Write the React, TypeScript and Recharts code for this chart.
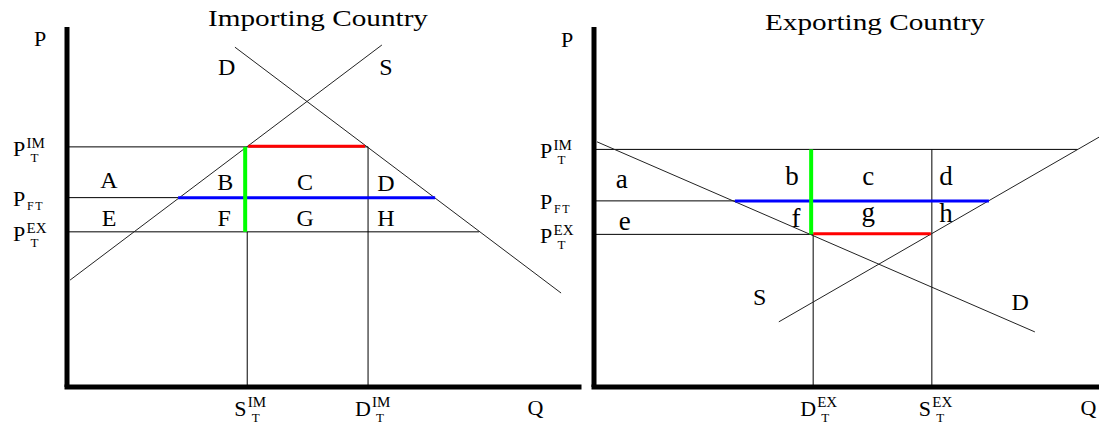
import React from 'react';
import { ComposedChart, Line, XAxis, YAxis, ReferenceDot } from 'recharts';

const FONT = "'Liberation Serif', 'Times New Roman', serif";

// ---------------- Importing country (left panel) ----------------
const IM_PRICE_TICKS = [66.7, 52.6, 43.1, 96.4];
const IM_PRICE_LABELS = [
  { base: 'P', sup: 'IM', sub: 'T' },
  { base: 'P', sup: '', sub: 'FT' },
  { base: 'P', sup: 'EX', sub: 'T' },
  { base: 'P', sup: '', sub: '' },
];
const IM_QTY_TICKS = [35.2, 58.8, 91.5];
const IM_QTY_LABELS = [
  { base: 'S', sup: 'IM', sub: 'T' },
  { base: 'D', sup: 'IM', sub: 'T' },
  { base: 'Q', sup: '', sub: '' },
];
const IM_SUPPLY = [{ q: 0.6, p: 29.7 }, { q: 61.5, p: 95.0 }];
const IM_DEMAND = [{ q: 32.8, p: 94.4 }, { q: 96.5, p: 26.1 }];
const IM_GUIDES = [
  [{ q: 0, p: 66.7 }, { q: 58.8, p: 66.7 }],
  [{ q: 0, p: 52.6 }, { q: 21.7, p: 52.6 }],
  [{ q: 0, p: 43.1 }, { q: 80.5, p: 43.1 }],
  [{ q: 35.2, p: 0 }, { q: 35.2, p: 43.1 }],
  [{ q: 58.8, p: 0 }, { q: 58.8, p: 66.7 }],
];
const IM_RED = [{ q: 35.4, p: 66.9 }, { q: 58.2, p: 66.9 }];
const IM_BLUE = [{ q: 21.7, p: 52.6 }, { q: 71.9, p: 52.6 }];
const IM_GREEN = [{ q: 34.8, p: 43.1 }, { q: 34.8, p: 66.7 }];
const IM_AREA_LABELS = [
  { q: 8.2, p: 55.3, text: 'A' },
  { q: 30.9, p: 54.7, text: 'B' },
  { q: 46.5, p: 54.7, text: 'C' },
  { q: 62.3, p: 54.4, text: 'D' },
  { q: 8.2, p: 44.7, text: 'E' },
  { q: 30.7, p: 44.7, text: 'F' },
  { q: 46.5, p: 44.7, text: 'G' },
  { q: 62.3, p: 44.7, text: 'H' },
  { q: 31.2, p: 86.7, text: 'D' },
  { q: 62.3, p: 86.7, text: 'S' },
];

// ---------------- Exporting country (right panel) ----------------
const EX_PRICE_TICKS = [66.0, 51.7, 42.4, 96.1];
const EX_PRICE_LABELS = [
  { base: 'P', sup: 'IM', sub: 'T' },
  { base: 'P', sup: '', sub: 'FT' },
  { base: 'P', sup: 'EX', sub: 'T' },
  { base: 'P', sup: '', sub: '' },
];
const EX_QTY_TICKS = [43.4, 66.9, 97.9];
const EX_QTY_LABELS = [
  { base: 'D', sup: 'EX', sub: 'T' },
  { base: 'S', sup: 'EX', sub: 'T' },
  { base: 'Q', sup: '', sub: '' },
];
const EX_SUPPLY = [{ q: 36.6, p: 18.1 }, { q: 100, p: 69.4 }];
const EX_DEMAND = [{ q: 0.6, p: 68.1 }, { q: 87.3, p: 15.3 }];
const EX_GUIDES = [
  [{ q: 0, p: 66.0 }, { q: 95.8, p: 66.0 }],
  [{ q: 0, p: 51.7 }, { q: 27.9, p: 51.7 }],
  [{ q: 0, p: 42.4 }, { q: 43.4, p: 42.4 }],
  [{ q: 43.4, p: 0 }, { q: 43.4, p: 42.4 }],
  [{ q: 66.9, p: 0 }, { q: 66.9, p: 66.0 }],
];
const EX_RED = [{ q: 43.4, p: 42.6 }, { q: 66.7, p: 42.6 }];
const EX_BLUE = [{ q: 27.9, p: 51.7 }, { q: 78.2, p: 51.7 }];
const EX_GREEN = [{ q: 43.0, p: 42.4 }, { q: 43.0, p: 66.0 }];
const EX_AREA_LABELS = [
  { q: 5.5, p: 55.3, text: 'a' },
  { q: 39.2, p: 56.1, text: 'b' },
  { q: 54.3, p: 56.1, text: 'c' },
  { q: 69.7, p: 56.1, text: 'd' },
  { q: 6.1, p: 43.6, text: 'e' },
  { q: 40.0, p: 44.4, text: 'f' },
  { q: 54.3, p: 46.0, text: 'g' },
  { q: 69.7, p: 45.8, text: 'h' },
  { q: 32.8, p: 22.8, text: 'S' },
  { q: 84.4, p: 21.4, text: 'D' },
];

const TITLES = ['Importing Country', 'Exporting Country'];

const BASE_W: Record<string, number> = { P: 12.5, S: 12.5, D: 16, Q: 16 };

type Lab = { base: string; sup: string; sub: string };

function Sym(props: {
  x: number; y: number; lab: Lab; supRise: number; subDrop: number; subDx: number;
}) {
  const { x, y, lab, supRise, subDrop, subDx } = props;
  const w = BASE_W[lab.base] ?? 12.5;
  return (
    <g fontFamily={FONT} fill="#000">
      <text x={x} y={y} fontSize={22}>{lab.base}</text>
      {lab.sup ? (
        <text x={x + w + 1} y={y - supRise} fontSize={15}>{lab.sup}</text>
      ) : null}
      {lab.sub ? (
        <text
          x={x + w + 1 + subDx}
          y={y + subDrop}
          fontSize={lab.sub === 'FT' ? 12 : 13}
          letterSpacing={lab.sub === 'FT' ? 1.5 : 0}
        >
          {lab.sub}
        </text>
      ) : null}
    </g>
  );
}

function makeYTick(ticks: number[], labels: Lab[]) {
  return (props: any) => {
    const { x, y, payload } = props;
    const i = ticks.indexOf(payload.value);
    const lab = labels[i];
    if (!lab) return <g />;
    if (!lab.sup && !lab.sub) {
      return (
        <text x={x - 33} y={y + 6} fontSize={22} fontFamily={FONT} fill="#000">
          {lab.base}
        </text>
      );
    }
    if (lab.sub === 'FT') {
      return <Sym x={x - 54} y={y + 8} lab={lab} supRise={8} subDrop={4} subDx={0.5} />;
    }
    return <Sym x={x - 54} y={y + 9} lab={lab} supRise={8} subDrop={6} subDx={4} />;
  };
}

function makeXTick(ticks: number[], labels: Lab[]) {
  return (props: any) => {
    const { x, y, payload } = props;
    const i = ticks.indexOf(payload.value);
    const lab = labels[i];
    if (!lab) return <g />;
    if (!lab.sup && !lab.sub) {
      return (
        <text x={x} y={y + 28} fontSize={22} fontFamily={FONT} fill="#000" textAnchor="middle">
          {lab.base}
        </text>
      );
    }
    return <Sym x={x - 13} y={y + 29} lab={lab} supRise={9} subDrop={6} subDx={4} />;
  };
}

function Panel(props: {
  width: number; marginRight: number;
  priceTicks: number[]; priceLabels: Lab[];
  qtyTicks: number[]; qtyLabels: Lab[];
  supply: { q: number; p: number }[]; demand: { q: number; p: number }[];
  guides: { q: number; p: number }[][];
  red: { q: number; p: number }[]; blue: { q: number; p: number }[]; green: { q: number; p: number }[];
  areaLabels: { q: number; p: number; text: string }[];
}) {
  const {
    width, marginRight, priceTicks, priceLabels, qtyTicks, qtyLabels,
    supply, demand, guides, red, blue, green, areaLabels,
  } = props;
  return (
    <ComposedChart
      width={width}
      height={429}
      margin={{ top: 27, right: marginRight, bottom: 0, left: 0 }}
    >
      <XAxis
        type="number"
        dataKey="q"
        domain={[0, 100]}
        ticks={qtyTicks}
        interval={0}
        height={42}
        tickSize={0}
        tickMargin={0}
        tickLine={false}
        axisLine={{ stroke: '#000', strokeWidth: 5, strokeLinecap: 'square' }}
        tick={makeXTick(qtyTicks, qtyLabels)}
        allowDataOverflow
      />
      <YAxis
        type="number"
        dataKey="p"
        domain={[0, 100]}
        ticks={priceTicks}
        interval={0}
        width={67}
        tickSize={0}
        tickMargin={0}
        tickLine={false}
        axisLine={{ stroke: '#000', strokeWidth: 5 }}
        tick={makeYTick(priceTicks, priceLabels)}
        allowDataOverflow
      />
      {guides.map((g, i) => (
        <Line
          key={'g' + i}
          data={g}
          dataKey="p"
          type="linear"
          stroke="#000"
          strokeWidth={1}
          dot={false}
          activeDot={false}
          isAnimationActive={false}
        />
      ))}
      <Line data={supply} dataKey="p" type="linear" stroke="#222" strokeWidth={1} dot={false} activeDot={false} isAnimationActive={false} />
      <Line data={demand} dataKey="p" type="linear" stroke="#222" strokeWidth={1} dot={false} activeDot={false} isAnimationActive={false} />
      <Line data={blue} dataKey="p" type="linear" stroke="#0000ff" strokeWidth={3} dot={false} activeDot={false} isAnimationActive={false} />
      <Line data={red} dataKey="p" type="linear" stroke="#ff0000" strokeWidth={3} dot={false} activeDot={false} isAnimationActive={false} />
      <Line data={green} dataKey="p" type="linear" stroke="#00ff00" strokeWidth={4} dot={false} activeDot={false} isAnimationActive={false} />
      {areaLabels.map((l, i) => {
        const lower = l.text === l.text.toLowerCase();
        return (
          <ReferenceDot
            key={'l' + i}
            x={l.q}
            y={l.p}
            r={0}
            ifOverflow="visible"
            shape={(sp: any) => (
              <text
                x={sp.cx}
                y={sp.cy}
                textAnchor="middle"
                fontSize={lower ? 27 : 24}
                fontFamily={FONT}
                fill="#000"
              >
                {l.text}
              </text>
            )}
          />
        );
      })}
    </ComposedChart>
  );
}

export default function App() {
  return (
    <div
      style={{
        position: 'absolute',
        left: 0,
        top: 0,
        width: 1099,
        height: 429,
        background: '#fff',
        overflow: 'hidden',
      }}
    >
      <div style={{ position: 'absolute', left: 0, top: 0 }}>
        <Panel
          width={590}
          marginRight={11}
          priceTicks={IM_PRICE_TICKS}
          priceLabels={IM_PRICE_LABELS}
          qtyTicks={IM_QTY_TICKS}
          qtyLabels={IM_QTY_LABELS}
          supply={IM_SUPPLY}
          demand={IM_DEMAND}
          guides={IM_GUIDES}
          red={IM_RED}
          blue={IM_BLUE}
          green={IM_GREEN}
          areaLabels={IM_AREA_LABELS}
        />
      </div>
      <div style={{ position: 'absolute', left: 527, top: 0 }}>
        <Panel
          width={572}
          marginRight={0}
          priceTicks={EX_PRICE_TICKS}
          priceLabels={EX_PRICE_LABELS}
          qtyTicks={EX_QTY_TICKS}
          qtyLabels={EX_QTY_LABELS}
          supply={EX_SUPPLY}
          demand={EX_DEMAND}
          guides={EX_GUIDES}
          red={EX_RED}
          blue={EX_BLUE}
          green={EX_GREEN}
          areaLabels={EX_AREA_LABELS}
        />
      </div>
      <svg
        width={1099}
        height={429}
        style={{ position: 'absolute', left: 0, top: 0, pointerEvents: 'none' }}
      >
        <text x={318} y={26} textAnchor="middle" fontSize={23} fontFamily={FONT} textLength={220} lengthAdjust="spacingAndGlyphs">
          {TITLES[0]}
        </text>
        <text x={875} y={30} textAnchor="middle" fontSize={23} fontFamily={FONT} textLength={220} lengthAdjust="spacingAndGlyphs">
          {TITLES[1]}
        </text>
      </svg>
    </div>
  );
}
